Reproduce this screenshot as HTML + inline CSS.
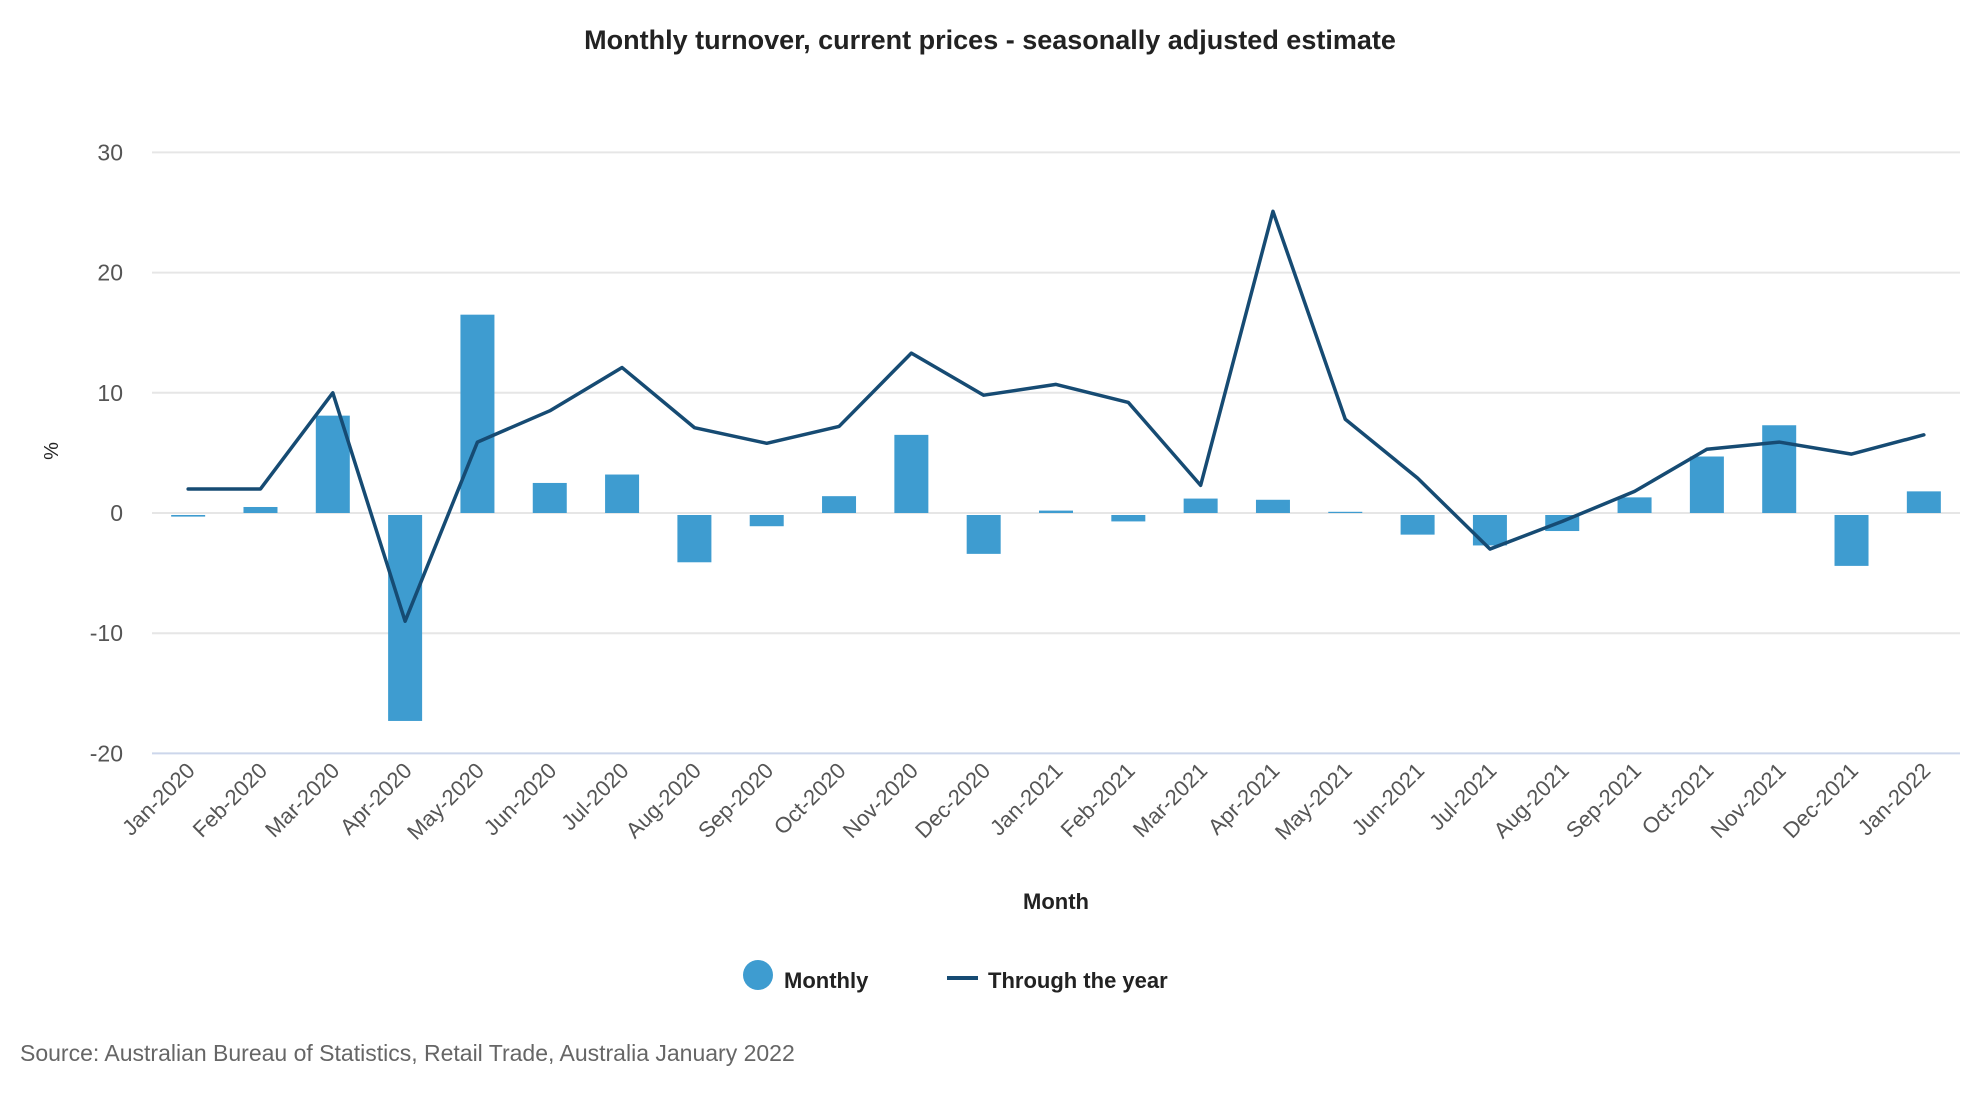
<!DOCTYPE html>
<html><head><meta charset="utf-8"><style>
body{margin:0;background:#fff;}
svg{display:block;font-family:"Liberation Sans",sans-serif;}
</style></head><body>
<svg id="chart" width="1980" height="1100">
<text x="990" y="49" text-anchor="middle" font-size="27" font-weight="600" fill="#222">Monthly turnover, current prices - seasonally adjusted estimate</text>
<g id="grid"></g><g id="bars"></g><g id="line"></g><g id="xlabels"></g>
<text transform="translate(58,451) rotate(-90)" text-anchor="middle" font-size="20" fill="#222">%</text>
<text x="1056" y="909" text-anchor="middle" font-size="22" font-weight="bold" fill="#222">Month</text>
<g><circle cx="758" cy="975" r="15" fill="#3e9cd0"/><text x="784" y="988" font-size="22" font-weight="bold" fill="#222">Monthly</text></g>
<g><line x1="947" y1="978" x2="978" y2="978" stroke="#164b73" stroke-width="4"/><text x="988" y="988" font-size="22" font-weight="bold" fill="#222">Through the year</text></g>
<text x="20" y="1061" font-size="23" fill="#666">Source: Australian Bureau of Statistics, Retail Trade, Australia January 2022</text>
</svg>
<script>
const categories=["Jan-2020","Feb-2020","Mar-2020","Apr-2020","May-2020","Jun-2020","Jul-2020","Aug-2020","Sep-2020","Oct-2020","Nov-2020","Dec-2020","Jan-2021","Feb-2021","Mar-2021","Apr-2021","May-2021","Jun-2021","Jul-2021","Aug-2021","Sep-2021","Oct-2021","Nov-2021","Dec-2021","Jan-2022"];
const monthly=[-0.3,0.5,8.1,-17.3,16.5,2.5,3.2,-4.1,-1.1,1.4,6.5,-3.4,0.2,-0.7,1.2,1.1,0.1,-1.8,-2.7,-1.5,1.3,4.7,7.3,-4.4,1.8];
const throughYear=[2.0,2.0,10.0,-9.0,5.9,8.5,12.1,7.1,5.8,7.2,13.3,9.8,10.7,9.2,2.3,25.1,7.8,2.9,-3.0,-0.7,1.8,5.3,5.9,4.9,6.5];
const yTicks=[-20,-10,0,10,20,30];
const NS="http://www.w3.org/2000/svg";
const X0=152,X1=1960,Y0=513,PPU=12.02;
const band=(X1-X0)/categories.length;
const xc=i=>X0+band*(i+0.5);
const y=v=>Y0-v*PPU;
function mk(tag,attrs,parent){const e=document.createElementNS(NS,tag);for(const k in attrs)e.setAttribute(k,attrs[k]);parent.appendChild(e);return e;}
const grid=document.getElementById('grid');
yTicks.forEach(t=>{
  const l=mk('line',{x1:X0,x2:X1,y1:y(t),y2:y(t),stroke:t===-20?'#ccd6eb':'#e6e6e6','stroke-width':2},grid);
  
  
  const tx=mk('text',{x:123,y:y(t)+8,'text-anchor':'end','font-size':23,fill:'#555'},grid);
  tx.textContent=t;
  
  
});
const bars=document.getElementById('bars');
monthly.forEach((v,i)=>{
  const top=Math.min(y(v),y(0)),h=Math.abs(y(v)-y(0));
  const r=mk('rect',{x:xc(i)-17,y:v>=0?top:top+2,width:34,height:Math.max(h-(v>=0?0:2),1),fill:'#3e9cd0'},bars);
  
  
});
const pts=throughYear.map((v,i)=>xc(i)+','+y(v)).join(' ');
const pl=mk('polyline',{points:pts,fill:'none',stroke:'#164b73','stroke-width':3.5,'stroke-linejoin':'round','stroke-linecap':'round'},document.getElementById('line'));


const xl=document.getElementById('xlabels');
categories.forEach((c,i)=>{
  const t=mk('text',{transform:`translate(${xc(i)+8},${772}) rotate(-45)`,'text-anchor':'end','font-size':22,fill:'#555'},xl);
  t.textContent=c;
  
  
});
</script>
</body></html>
